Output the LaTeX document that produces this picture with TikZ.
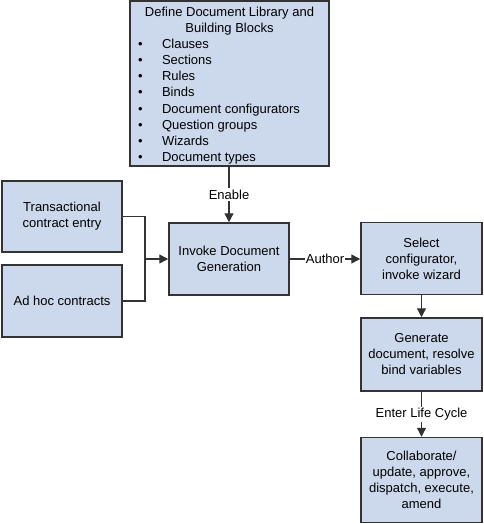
\documentclass[tikz,border=0pt]{standalone}
\usepackage{fontspec}
\setmainfont{Liberation Sans}
\usetikzlibrary{arrows.meta}
\definecolor{boxfill}{RGB}{204,216,235}
\definecolor{edge}{RGB}{51,51,51}
\begin{document}
\begin{tikzpicture}[x=1pt,y=-1pt,
  box/.style={draw=edge, line width=1.5pt, fill=boxfill, inner sep=0pt, align=center,
    font=\fontsize{13}{16}\selectfont},
  conn/.style={draw=edge, line width=1.4pt},
  arr/.style={conn, -{Triangle[length=9pt,width=9pt]}},
  lbl/.style={fill=white, inner sep=1.5pt, font=\fontsize{13}{16}\selectfont, text=black}]
\useasboundingbox (0,0) rectangle (483,524);
\newcommand{\bitem}[1]{\hspace*{8pt}\makebox[24pt][l]{\textbullet}#1\\}
\node[box, minimum width=199pt, minimum height=165pt] (lib) at (229.5,83.5)
  {\parbox{199pt}{\fontsize{13}{16.15}\selectfont\vspace*{4pt}
   \centering Define Document Library and\\ Building Blocks\par
   \raggedright
   \bitem{Clauses}
   \bitem{Sections}
   \bitem{Rules}
   \bitem{Binds}
   \bitem{Document configurators}
   \bitem{Question groups}
   \bitem{Wizards}
   \hspace*{8pt}\makebox[24pt][l]{\textbullet}Document types\par}};
\node[box, minimum width=120pt, minimum height=71pt] (trans) at (62,216.5) {Transactional\\contract entry};
\node[box, minimum width=120pt, minimum height=72pt] (adhoc) at (62,301) {Ad hoc contracts};
\node[box, minimum width=120pt, minimum height=72pt] (invoke) at (229,259) {Invoke Document\\Generation};
\node[box, minimum width=121pt, minimum height=72pt] (select) at (421.5,258.5) {Select\\configurator,\\invoke wizard};
\node[box, minimum width=121pt, minimum height=73pt] (gen) at (421.5,354.5) {Generate\\document, resolve\\bind variables};
\node[box, minimum width=121pt, minimum height=85pt] (collab) at (421.5,480) {Collaborate/\\update, approve,\\dispatch, execute,\\amend};
\coordinate (j) at (145,259);
\draw[arr] (lib.south -| invoke.north) -- node[lbl] {Enable} (invoke.north);
\draw[conn] (trans.east) -| (j);
\draw[conn] (adhoc.east) -| (j);
\draw[arr] (j) -- (invoke.west);
\draw[arr] (invoke.east) -- node[lbl, inner sep=0.5pt] {Author} (invoke.east -| select.west);
\draw[arr] (select.south) -- (gen.north);
\draw[arr] (gen.south) -- node[lbl] {Enter Life Cycle} (collab.north);
\end{tikzpicture}
\end{document}
